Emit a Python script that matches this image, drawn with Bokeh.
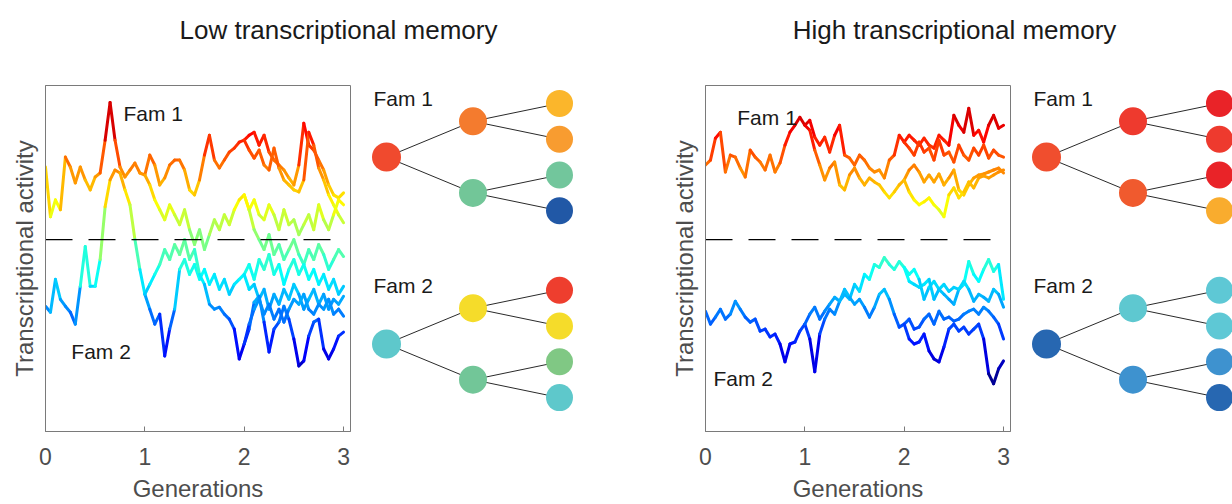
import numpy as np
from bokeh.plotting import figure
from bokeh.models import ColumnDataSource, Range1d, FixedTicker, Label
from bokeh.layouts import column, row
from bokeh.transform import linear_cmap
from bokeh.embed import file_html
from bokeh.resources import INLINE
from bokeh.core.properties import value

FONT = "Liberation Sans"

# ---------------- data: LOW transcriptional memory ----------------
generations = [0, 1, 2, 3]
low_f1_g0 = [0.73,0.23,0.40,0.30,0.83, 0.73,0.57,0.73,0.60,0.50, 0.63,0.67,1.00,1.38,1.00, 0.73,0.63,0.70,0.77,0.67, 0.65]
low_f2_g0 = [-0.67,-0.73,-0.40,-0.60,-0.67, -0.73,-0.85,-0.47,-0.07,-0.47, -0.47,-0.20,0.33,0.60,0.70, 0.67,0.50,0.35,0.00,-0.30, -0.55]
low_f1_g1a = [0.65,0.85,0.75,0.55,0.62, 0.75,0.80,0.80,0.70,0.50, 0.45,0.60,0.85,1.05,0.80, 0.72,0.80,0.88,0.92,0.98, 1.00]
low_f1_g1b = [0.65,0.55,0.40,0.30,0.20, 0.35,0.25,0.15,0.30,0.10, -0.05,0.10,-0.10,0.05,0.20, 0.10,0.25,0.15,0.30,0.40, 0.45]
low_f2_g1a = [-0.55,-0.70,-0.85,-0.75,-1.17, -0.90,-0.70,-0.30,-0.20,-0.35, -0.25,-0.40,-0.30,-0.45,-0.35, -0.50,-0.40,-0.55,-0.45,-0.40, -0.35]
low_f2_g1b = [-0.55,-0.45,-0.35,-0.25,-0.10, -0.20,-0.05,-0.15,0.00,-0.20, -0.10,-0.35,-0.45,-0.65,-0.70, -0.68,-0.75,-0.80,-0.90,-1.20, -1.05]
low_f1_g2a1 = [1.00,1.05,1.08,0.95,1.05, 0.88,0.80,0.75,0.70,0.62, 0.55,0.75,1.17,0.95,0.90, 0.80,0.70,0.55,0.45,0.42, 0.47]
low_f1_g2a2 = [1.00,0.90,0.82,0.90,0.75, 0.70,0.92,0.72,0.60,0.55, 0.50,0.48,0.60,1.08,0.95, 0.72,0.60,0.45,0.35,0.25, 0.17]
low_f1_g2b1 = [0.45,0.30,0.40,0.25,0.20, 0.35,0.25,0.10,0.30,0.15, 0.20,0.05,0.15,0.25,0.10, 0.35,0.20,0.10,0.25,0.40, 0.35]
low_f1_g2b2 = [0.45,0.30,0.10,0.00,-0.10, 0.05,-0.15,-0.05,-0.20,-0.10, 0.00,-0.15,-0.25,-0.10,-0.20, -0.05,-0.15,-0.30,-0.20,-0.10, -0.17]
low_f2_g2a1 = [-0.35,-0.25,-0.40,-0.20,-0.30, -0.15,-0.35,-0.25,-0.45,-0.30, -0.20,-0.35,-0.25,-0.40,-0.30, -0.45,-0.35,-0.50,-0.40,-0.55, -0.47]
low_f2_g2a2 = [-0.35,-0.50,-0.45,-0.60,-0.50, -0.70,-0.55,-0.65,-0.50,-0.60, -0.45,-0.55,-0.70,-0.60,-0.50, -0.65,-0.55,-0.70,-0.60,-0.65, -0.57]
low_f2_g2b1 = [-1.05,-0.90,-0.63,-0.57,-0.83, -1.13,-0.90,-0.83,-0.67,-0.80, -1.00,-1.27,-1.22,-0.97,-0.83, -0.80,-1.10,-1.20,-1.10,-0.97, -0.93]
low_f2_g2b2 = [-1.05,-0.85,-0.70,-0.60,-0.75, -0.65,-0.80,-0.70,-0.83,-0.70, -0.60,-0.65,-0.55,-0.70,-0.75, -0.65,-0.70,-0.60,-0.75,-0.70, -0.77]

# ---------------- data: HIGH transcriptional memory ----------------
high_f1_g0 = [0.75,0.80,1.02,1.08,0.68, 0.85,0.83,0.72,0.63,0.90, 0.83,0.78,0.70,0.85,0.68, 0.77,0.95,1.08,1.15,1.23, 1.15]
high_f2_g0 = [-0.72,-0.85,-0.78,-0.70,-0.80, -0.75,-0.62,-0.70,-0.78,-0.83, -0.80,-0.92,-0.90,-0.98,-0.95, -1.05,-1.23,-1.05,-1.03,-0.92, -0.85]
high_f1_g1a = [1.15,1.20,1.03,0.95,1.03, 0.88,1.05,1.15,0.85,0.82, 0.75,0.85,0.80,0.72,0.68, 0.70,0.62,0.80,0.85,1.05, 0.98]
high_f1_g1b = [1.15,1.10,0.90,0.75,0.60, 0.72,0.78,0.55,0.50,0.65, 0.72,0.62,0.55,0.62,0.58, 0.55,0.48,0.42,0.48,0.55, 0.60]
high_f2_g1a = [-0.85,-1.00,-1.33,-0.95,-0.80, -0.70,-0.75,-0.62,-0.55,-0.60, -0.45,-0.52,-0.35,-0.40,-0.25, -0.28,-0.18,-0.25,-0.30,-0.22, -0.28]
high_f2_g1b = [-0.85,-0.75,-0.68,-0.80,-0.72, -0.65,-0.58,-0.62,-0.50,-0.58, -0.65,-0.60,-0.68,-0.78,-0.68, -0.55,-0.50,-0.60,-0.75,-0.88, -0.85]
high_f1_g2a1 = [0.98,1.05,1.00,0.95,1.02, 0.95,0.92,1.05,1.00,0.95, 1.25,1.15,1.08,1.32,1.05, 1.10,0.98,1.15,1.25,1.12, 1.15]
high_f1_g2a2 = [0.98,0.92,0.85,0.98,0.88, 0.92,0.80,1.00,0.85,0.88, 0.78,0.95,0.85,0.80,0.92, 0.85,0.95,0.82,0.90,0.85, 0.83]
high_f1_g2b1 = [0.60,0.70,0.75,0.68,0.58, 0.65,0.58,0.66,0.55,0.62, 0.70,0.50,0.45,0.55,0.62, 0.65,0.66,0.68,0.70,0.72, 0.67]
high_f1_g2b2 = [0.60,0.48,0.40,0.35,0.38, 0.42,0.35,0.30,0.23,0.45, 0.52,0.42,0.48,0.58,0.52, 0.62,0.64,0.62,0.65,0.68, 0.70]
high_f2_g2a1 = [-0.28,-0.35,-0.30,-0.40,-0.60, -0.48,-0.42,-0.50,-0.45,-0.52, -0.48,-0.50,-0.45,-0.22,-0.35, -0.42,-0.30,-0.20,-0.32,-0.25, -0.60]
high_f2_g2a2 = [-0.28,-0.42,-0.45,-0.48,-0.45, -0.40,-0.60,-0.50,-0.55,-0.60, -0.65,-0.50,-0.42,-0.50,-0.62, -0.55,-0.58,-0.62,-0.50,-0.55, -0.68]
high_f2_g2b1 = [-0.85,-0.80,-0.90,-0.88,-0.80, -0.75,-0.85,-0.72,-0.80,-0.78, -0.82,-0.80,-0.75,-0.72,-0.70, -0.75,-0.68,-0.72,-0.78,-0.85, -1.00]
high_f2_g2b2 = [-0.85,-1.00,-1.05,-1.03,-0.95, -1.12,-1.20,-1.23,-1.08,-0.90, -0.85,-0.92,-0.88,-0.95,-0.90, -0.85,-1.00,-1.35,-1.45,-1.30, -1.22]

# tree node colours: root, upper daughter, lower daughter, four granddaughters (top to bottom)
low_fam1_nodes = ["#f04a2e", "#f47b2e", "#72c698", "#fbb62b", "#f89c30", "#72c69c", "#2158a6"]
low_fam2_nodes = ["#5ec8cb", "#f5dc2a", "#72c698", "#ee3e2e", "#f5dc2a", "#80c884", "#5ec8cb"]
high_fam1_nodes = ["#f04e2e", "#ee3a2e", "#f05a2e", "#e92328", "#ee3a2e", "#e92328", "#f9ac2e"]
high_fam2_nodes = ["#2767b1", "#5ec8d0", "#3e92cf", "#5ec8d5", "#5ec8d5", "#3e92cf", "#2767b1"]

titles = ["Low transcriptional memory", "High transcriptional memory"]
x_ticks = [0, 1, 2, 3]
fam_labels = ["Fam 1", "Fam 2"]


def jet(n=256):
    cols = []
    for i in range(n):
        t = i / (n - 1)
        r = min(max(1.5 - abs(4 * t - 3), 0), 1)
        g = min(max(1.5 - abs(4 * t - 2), 0), 1)
        b = min(max(1.5 - abs(4 * t - 1), 0), 1)
        cols.append("#%02x%02x%02x" % (int(round(r * 255)), int(round(g * 255)), int(round(b * 255))))
    return cols


JET = jet()


def segments(paths):
    x0, y0, x1, y1, v = [], [], [], [], []
    for gen, vals in paths:
        xs = gen + np.linspace(0, 1, len(vals))
        for i in range(len(vals) - 1):
            x0.append(xs[i]); x1.append(xs[i + 1])
            y0.append(vals[i]); y1.append(vals[i + 1])
            v.append(0.5 * (vals[i] + vals[i + 1]))
    return ColumnDataSource(dict(x0=x0, y0=y0, x1=x1, y1=y1, v=v))


def make_plot(paths, lab1, lab2):
    p = figure(width=360, height=444, x_range=Range1d(0, 3.07), y_range=Range1d(-1.93, 1.55),
               min_border_left=45, min_border_right=10, min_border_top=25, min_border_bottom=71,
               toolbar_location=None, output_backend="svg")
    p.grid.visible = False
    p.outline_line_color = "#7a7a7a"
    p.outline_line_width = 1
    p.background_fill_color = "white"
    p.border_fill_color = "white"

    src = segments(paths)
    p.segment("x0", "y0", "x1", "y1", source=src, line_width=3, line_cap="round",
              line_color=linear_cmap("v", JET, -1.45, 1.45))
    p.segment(x0=[generations[0]], y0=[0], x1=[generations[-1]], y1=[0],
              line_color="black", line_width=1.2, line_dash="27 16")

    xa = p.xaxis[0]
    xa.ticker = FixedTicker(ticks=x_ticks)
    xa.minor_tick_line_color = None
    xa.major_tick_in = 5
    xa.major_tick_out = 0
    xa.axis_line_color = "#7a7a7a"
    xa.major_tick_line_color = "#7a7a7a"
    xa.major_label_text_font = FONT
    xa.major_label_text_font_size = "23px"
    xa.major_label_text_color = "#4d4d4d"
    xa.major_label_standoff = 16
    xa.axis_label = "Generations"
    xa.axis_label_text_font = FONT
    xa.axis_label_text_font_size = "24px"
    xa.axis_label_text_font_style = "normal"
    xa.axis_label_text_color = "#4d4d4d"
    xa.axis_label_standoff = 7

    ya = p.yaxis[0]
    ya.ticker = FixedTicker(ticks=[])
    ya.minor_tick_line_color = None
    ya.major_label_text_font_size = "0px"
    ya.axis_line_color = "#7a7a7a"
    ya.axis_label = "Transcriptional activity"
    ya.axis_label_text_font = FONT
    ya.axis_label_text_font_size = "24px"
    ya.axis_label_text_font_style = "normal"
    ya.axis_label_text_color = "#4d4d4d"
    ya.axis_label_standoff = 8

    for (x, y), txt in zip([lab1, lab2], fam_labels):
        p.add_layout(Label(x=x, y=y, text=txt, text_font=FONT, text_font_size="21px",
                           text_color="#1a1a1a", text_baseline="alphabetic"))
    return p


def make_tree(width, fam1_nodes, fam2_nodes):
    # the row aligns this frame with the neighbouring plot frame (top 25, bottom 71)
    scale = 86.5   # px per generation level
    slot = 36.0    # px per leaf slot
    frame_h = 348.0
    top = 18.0     # px from frame top to first leaf
    xs = -26 / scale
    t = figure(width=width, height=444, x_range=Range1d(xs, xs + width / scale),
               y_range=Range1d((frame_h - top) / slot, -top / slot),
               min_border_left=0, min_border_right=0, min_border_top=25, min_border_bottom=71,
               toolbar_location=None, output_backend="svg",
               x_axis_location=None, y_axis_location=None)
    t.grid.visible = False
    t.outline_line_color = None
    levels = [0, 1, 1, 2, 2, 2, 2]
    slots = [1.5, 0.5, 2.5, 0, 1, 2, 3]
    parents = [None, 0, 0, 1, 1, 2, 2]
    sizes = [29, 28, 28, 27, 27, 27, 27]
    for off, nodes, txt in [(0.0, fam1_nodes, fam_labels[0]), (5.22, fam2_nodes, fam_labels[1])]:
        nx = levels
        ny = [s + off for s in slots]
        ex0, ey0, ex1, ey1 = [], [], [], []
        for i, par in enumerate(parents):
            if par is None:
                continue
            ex0.append(nx[par]); ey0.append(ny[par]); ex1.append(nx[i]); ey1.append(ny[i])
        t.segment(ex0, ey0, ex1, ey1, line_color="#2a2a2a", line_width=1)
        t.scatter(nx, ny, size=sizes, fill_color=nodes, line_color=None)
        t.add_layout(Label(x=xs + 13 / scale, y=off - 0.14, text=txt, text_font=FONT,
                           text_font_size="21px", text_color="#1a1a1a", text_baseline="alphabetic"))
    return t


low_paths = [(0, low_f1_g0), (0, low_f2_g0),
             (1, low_f1_g1a), (1, low_f1_g1b), (1, low_f2_g1a), (1, low_f2_g1b),
             (2, low_f1_g2a1), (2, low_f1_g2a2), (2, low_f1_g2b1), (2, low_f1_g2b2),
             (2, low_f2_g2a1), (2, low_f2_g2a2), (2, low_f2_g2b1), (2, low_f2_g2b2)]
high_paths = [(0, high_f1_g0), (0, high_f2_g0),
              (1, high_f1_g1a), (1, high_f1_g1b), (1, high_f2_g1a), (1, high_f2_g1b),
              (2, high_f1_g2a1), (2, high_f1_g2a2), (2, high_f1_g2b1), (2, high_f1_g2b2),
              (2, high_f2_g2a1), (2, high_f2_g2a2), (2, high_f2_g2b1), (2, high_f2_g2b2)]

p_low = make_plot(low_paths, (0.785, 1.27), (0.26, -1.13))
p_high = make_plot(high_paths, (0.32, 1.23), (0.08, -1.40))
t_low = make_tree(300, low_fam1_nodes, low_fam2_nodes)
t_high = make_tree(212, high_fam1_nodes, high_fam2_nodes)

tf = figure(width=1232, height=60, x_range=Range1d(0, 1232), y_range=Range1d(60, 0),
            min_border=0, toolbar_location=None, output_backend="svg",
            x_axis_location=None, y_axis_location=None)
tf.grid.visible = False
tf.outline_line_color = None
tf.text(x=[338, 954], y=[29, 29], text=titles, text_font=value(FONT), text_font_size="26px",
        text_color="#1a1a1a", text_align="center", text_baseline="middle")

layout = column(tf, row(p_low, t_low, p_high, t_high, spacing=0), spacing=0)
open("out.html", "w").write(file_html(layout, INLINE))
